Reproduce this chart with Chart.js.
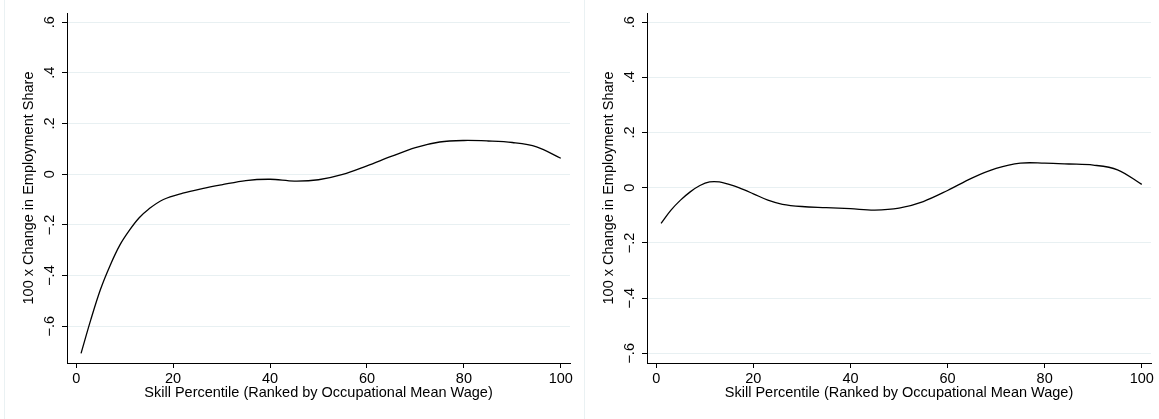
<!DOCTYPE html>
<html>
<head>
<meta charset="utf-8">
<script src="https://cdn.jsdelivr.net/npm/chart.js@4"></script>
<style>
  body { margin: 0; background: #fff; }
  #wrap { position: relative; width: 1159px; height: 419px; overflow: hidden; }
  .panel { position: absolute; top: 0; height: 419px; }
  .edge { position: absolute; top: 0; width: 1px; height: 419px; background: #eaf1f3; }
</style>
</head>
<body>
<div id="wrap">
  <div class="edge" style="left:4px"></div>
  <div class="edge" style="left:584px"></div>
  <canvas id="left" class="panel" style="left:0" width="580" height="419"></canvas>
  <canvas id="right" class="panel" style="left:580px" width="579" height="419"></canvas>
</div>
<script>
// skill percentile (x) and 100 x change in employment share (y)
let leftX = [1, 3, 5, 7, 9, 11, 13, 15, 18, 22, 26, 30, 35, 40, 45, 50, 55, 60, 65, 70, 75, 80, 85, 90, 95, 100];
let leftY = [-0.707, -0.575, -0.455, -0.36, -0.28, -0.221, -0.172, -0.137, -0.10, -0.075, -0.057, -0.042, -0.025, -0.02, -0.027, -0.022, -0.001, 0.033, 0.07, 0.105, 0.127, 0.133, 0.131, 0.125, 0.108, 0.063];

let rightX = [1, 3, 5, 7, 9, 11, 13, 15, 17, 20, 23, 26, 30, 35, 40, 45, 50, 55, 60, 65, 70, 75, 80, 85, 90, 95, 100];
let rightY = [-0.129, -0.082, -0.045, -0.015, 0.008, 0.021, 0.021, 0.012, 0.0, -0.022, -0.045, -0.06, -0.068, -0.072, -0.076, -0.081, -0.074, -0.05, -0.01, 0.035, 0.07, 0.089, 0.089, 0.086, 0.082, 0.065, 0.012];

let yTicks = [-0.6, -0.4, -0.2, 0, 0.2, 0.4, 0.6];
let xTitle = "Skill Percentile (Ranked by Occupational Mean Wage)";
let yTitle = "100 x Change in Employment Share";

const font = { family: "'Liberation Sans', Arial, sans-serif", size: 14.5 };
const gridColor = "#e8f0f2";

function stataNum(v) {
  let r = Math.round(v * 10) / 10;
  if (r == 0) return "0";
  let s = Math.abs(r).toString().replace(/^0/, "");
  return (r < 0 ? "\u2212" : "") + s;
}

function makeChart(id, xs, ys, yMin, yMax, padRight) {
  const ctx = document.getElementById(id).getContext("2d");
  return new Chart(ctx, {
    type: "scatter",
    data: {
      datasets: [{
        data: xs.map((x, i) => ({ x: x, y: ys[i] })),
        showLine: true,
        borderColor: "#000",
        borderWidth: 1.3,
        pointRadius: 0,
        tension: 0.35,
        fill: false
      }]
    },
    options: {
      responsive: false,
      animation: false,
      events: [],
      layout: { autoPadding: false, padding: { left: 0, top: 13, right: padRight, bottom: 0 } },
      plugins: { legend: { display: false }, tooltip: { enabled: false } },
      scales: {
        x: {
          type: "linear",
          min: -1.9,
          max: 101.9,
          afterFit: (s) => { s.height = 56; },
          border: { color: "#000", width: 1 },
          grid: { drawOnChartArea: false, tickLength: 5, tickColor: "#000", lineWidth: 1 },
          ticks: { stepSize: 20, includeBounds: false, color: "#000", font: font, padding: 2, maxRotation: 0 },
          title: { display: true, text: xTitle, color: "#000", font: font, padding: { top: 0, bottom: 17 } }
        },
        y: {
          type: "linear",
          min: yMin,
          max: yMax,
          afterFit: (s) => { s.width = 67; },
          afterBuildTicks: (s) => { s.ticks = yTicks.map(v => ({ value: v })); },
          border: { color: "#000", width: 1 },
          grid: { color: gridColor, lineWidth: 1, tickLength: 5, tickColor: "#000" },
          ticks: {
            color: "#000", font: font, padding: 2, minRotation: 90, maxRotation: 90,
            crossAlign: "center", autoSkip: false,
            callback: (v) => stataNum(v)
          },
          title: { display: true, text: yTitle, color: "#000", font: font, padding: { top: 20, bottom: 0 } }
        }
      }
    }
  });
}

makeChart("left", leftX, leftY, -0.745, 0.636, 10);
makeChart("right", rightX, rightY, -0.635, 0.633, 8);
</script>
</body>
</html>
